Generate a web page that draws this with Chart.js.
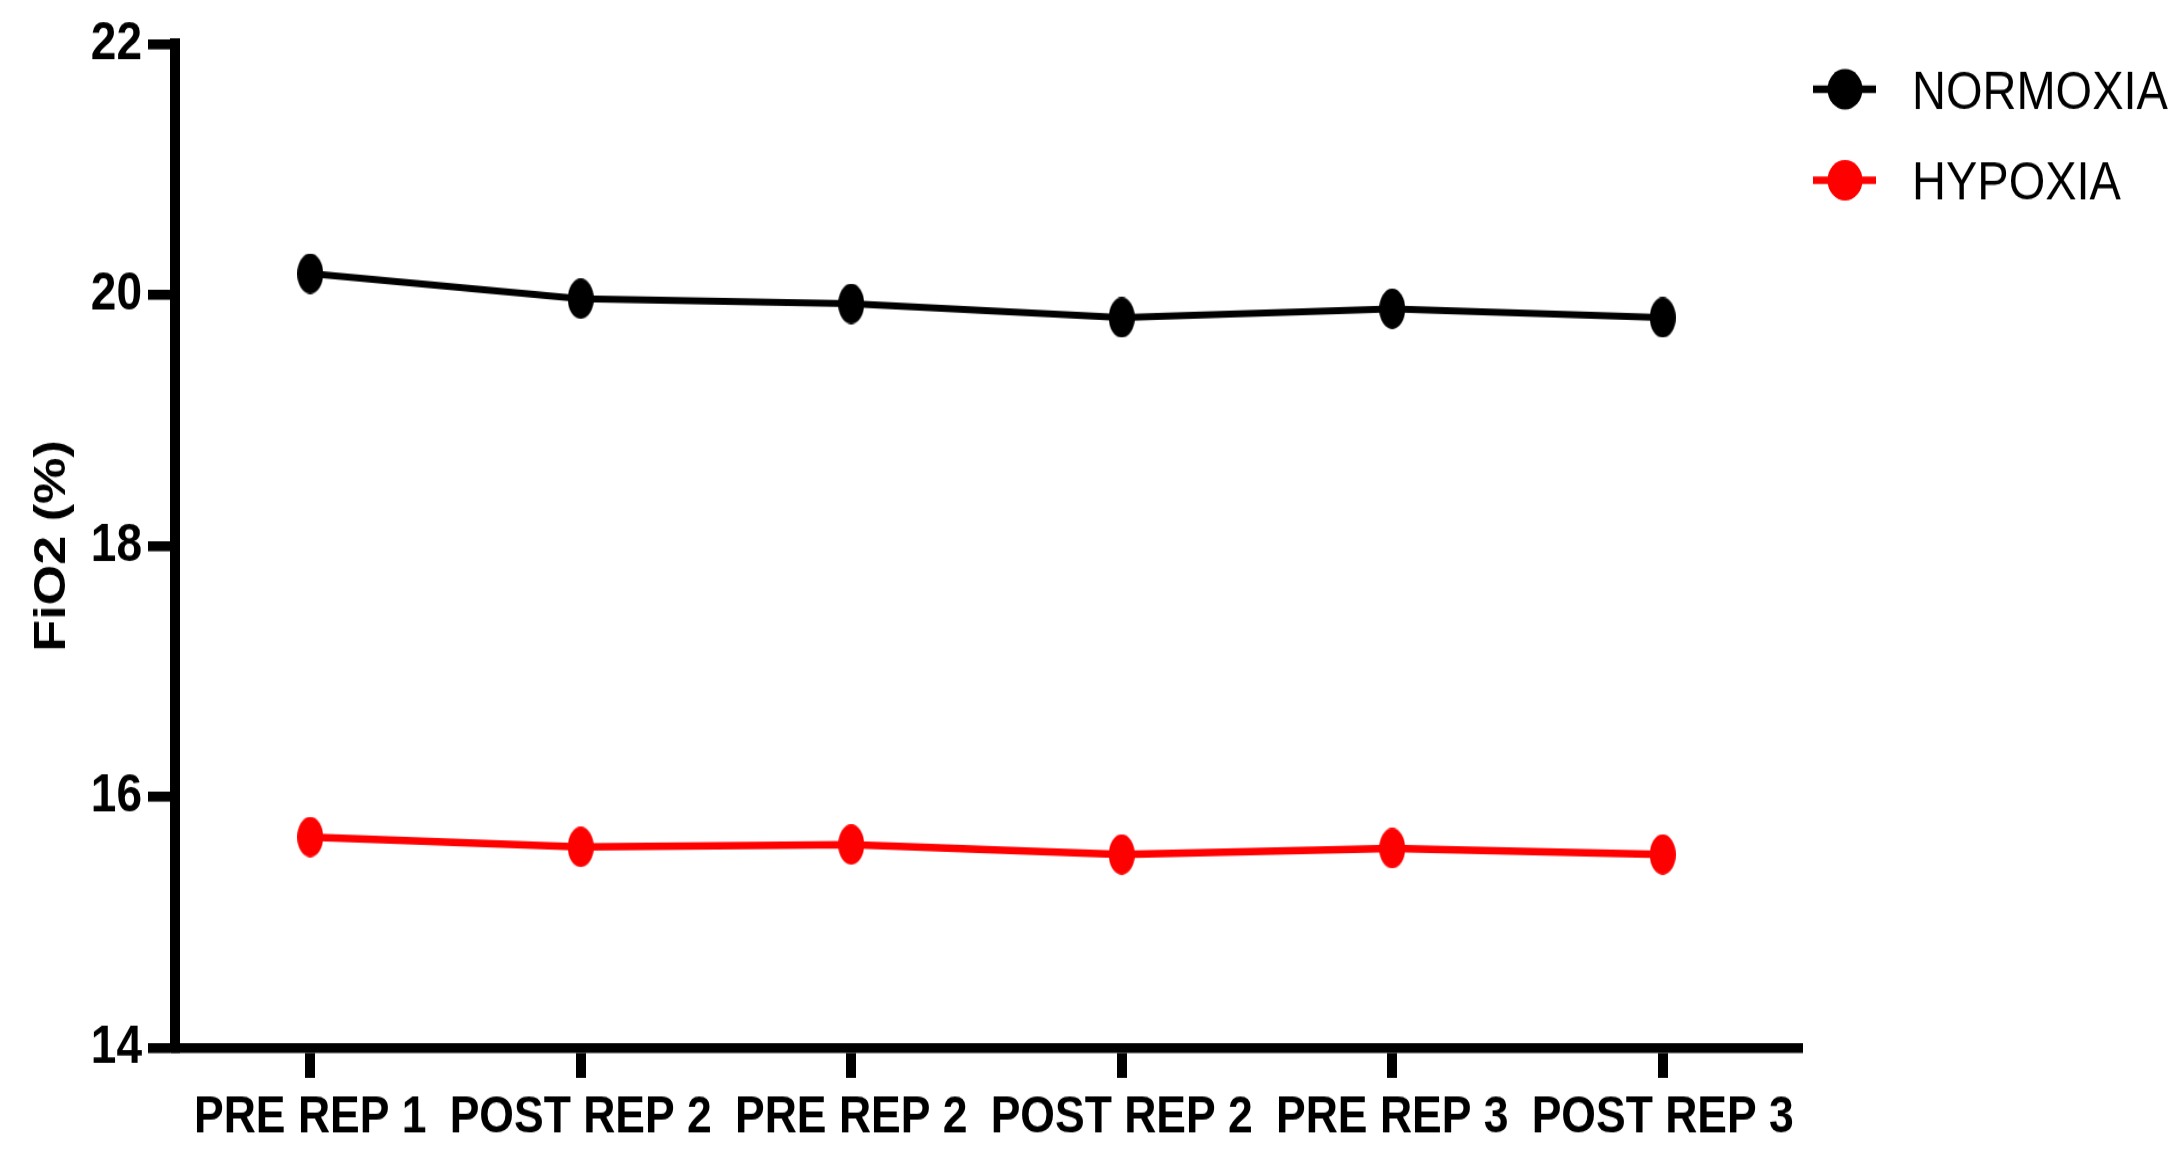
<!DOCTYPE html>
<html><head><meta charset="utf-8">
<script src="https://cdn.jsdelivr.net/npm/chart.js@4"></script>
<style>
html,body{margin:0;padding:0;background:#fff;overflow:hidden;width:2182px;height:1159px}
#wrap{position:absolute;left:0;top:0;width:2182px;height:1000px;transform:scaleY(1.159);transform-origin:0 0}
</style></head><body>
<div id="wrap"><canvas id="c"></canvas></div>
<script>
const categories = ['PRE REP 1', 'POST REP 2', 'PRE REP 2', 'POST REP 2', 'PRE REP 3', 'POST REP 3'];
const normoxia = [20.17, 19.97, 19.93, 19.82, 19.89, 19.82];
const hypoxia = [15.68, 15.60, 15.62, 15.54, 15.59, 15.54];
const yTicks = [14, 16, 18, 20, 22];
const seriesNames = ['NORMOXIA', 'HYPOXIA'];
const seriesColors = ['#000000', '#ff0000'];
const yTitle = 'FiO2 (%)';

const FONT = '"Liberation Sans", Arial, Helvetica, sans-serif';

function ellipseMarker(color) {
  const cv = document.createElement('canvas');
  cv.width = 26; cv.height = 35;
  const g = cv.getContext('2d');
  g.fillStyle = color;
  g.beginPath();
  g.ellipse(13, 17.5, 13, 17.5, 0, 0, Math.PI * 2);
  g.fill();
  return cv;
}

const legendPlugin = {
  id: 'customLegend',
  afterDraw(chart) {
    const ctx = chart.ctx;
    ctx.save();
    chart.data.datasets.forEach((ds, i) => {
      const cy = 77 + i * 78.5;
      ctx.strokeStyle = ds.borderColor;
      ctx.lineWidth = 6.5;
      ctx.beginPath();
      ctx.moveTo(1813, cy);
      ctx.lineTo(1876, cy);
      ctx.stroke();
      ctx.fillStyle = ds.borderColor;
      ctx.beginPath();
      ctx.arc(1845, cy, 17.5, 0, Math.PI * 2);
      ctx.fill();
      ctx.fillStyle = '#000';
      ctx.font = '47px ' + FONT;
      ctx.textBaseline = 'alphabetic';
      ctx.textAlign = 'left';
      ctx.fillText(ds.label, 1912, cy + 0.358 * 47);
    });
    ctx.restore();
  }
};

new Chart(document.getElementById('c'), {
  type: 'line',
  data: {
    labels: categories,
    datasets: [
      { label: seriesNames[0], data: normoxia, borderColor: seriesColors[0], backgroundColor: seriesColors[0],
        borderWidth: 6, pointStyle: ellipseMarker(seriesColors[0]), pointRadius: 14, tension: 0, fill: false },
      { label: seriesNames[1], data: hypoxia, borderColor: seriesColors[1], backgroundColor: seriesColors[1],
        borderWidth: 6.5, pointStyle: ellipseMarker(seriesColors[1]), pointRadius: 14, tension: 0, fill: false }
    ]
  },
  options: {
    responsive: true,
    maintainAspectRatio: false,
    animation: false,
    events: [],
    layout: { padding: { top: 38, right: 384, left: 0, bottom: 0 } },
    plugins: { legend: { display: false }, tooltip: { enabled: false } },
    scales: {
      x: {
        offset: true,
        grid: { offset: false, drawOnChartArea: false, drawTicks: true, tickLength: 26, lineWidth: 10, color: '#000' },
        border: { display: true, width: 8.6, color: '#000' },
        ticks: { color: '#000', font: { family: FONT, size: 44.5, weight: 'bold' }, padding: 8, maxRotation: 0, autoSkip: false },
        afterFit(scale) { scale.height = 96; }
      },
      y: {
        min: 14, max: 22,
        afterBuildTicks(scale) { scale.ticks = yTicks.map(v => ({ value: v })); },
        grid: { drawOnChartArea: false, drawTicks: true, tickLength: 27, lineWidth: 8.6, color: '#000' },
        border: { display: true, width: 10, color: '#000' },
        ticks: { color: '#000', font: { family: FONT, size: 46, weight: 'bold' }, padding: 6 },
        title: { display: true, text: yTitle, color: '#000', font: { family: FONT, size: 45, weight: 'bold' }, padding: { top: 26, bottom: 0 } },
        afterFit(scale) { scale.width = 175; }
      }
    }
  },
  plugins: [legendPlugin]
});
</script>
</body></html>
